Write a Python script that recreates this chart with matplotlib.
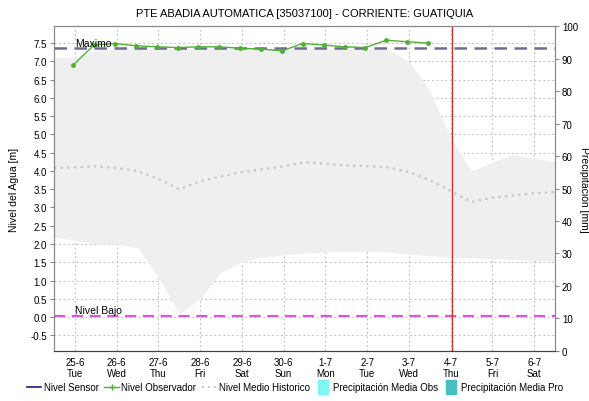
import matplotlib
matplotlib.use('Agg')
import matplotlib.dates as mdates
import matplotlib.pyplot as plt
import numpy as np
import pandas as pd

plt.rcParams['font.family'] = ['Liberation Sans', 'DejaVu Sans']

# Observed water level (m), one reading every 12 h
obs_times = pd.date_range('2024-06-24 23:00', periods=18, freq='12h')
obs_level = [6.90, 7.45, 7.49, 7.43, 7.40, 7.38, 7.40, 7.40, 7.36,
             7.34, 7.29, 7.49, 7.45, 7.40, 7.38, 7.58, 7.54, 7.50]

# Historic statistics (m), every 12 h
hist_times = pd.date_range('2024-06-24 12:00', periods=25, freq='12h')
hist_mean = [4.08, 4.10, 4.13, 4.08, 4.00, 3.78, 3.50, 3.72, 3.85, 3.97, 4.05, 4.13, 4.24,
             4.20, 4.15, 4.13, 4.10, 3.97, 3.75, 3.45, 3.15, 3.27, 3.33, 3.39, 3.42]
hist_max = [7.10, 7.12, 7.30, 7.35, 7.35, 7.35, 7.35, 7.35, 7.35, 7.35, 7.35, 7.35, 7.35,
            7.35, 7.35, 7.35, 7.33, 7.00, 6.20, 4.90, 4.00, 4.25, 4.45, 4.35, 4.25]
hist_min = [2.19, 2.10, 2.00, 2.00, 1.90, 1.09, 0.08, 0.50, 1.23, 1.50, 1.65, 1.70, 1.75,
            1.78, 1.80, 1.80, 1.78, 1.72, 1.68, 1.64, 1.62, 1.60, 1.58, 1.55, 1.53]

nivel_maximo = 7.36
nivel_bajo = 0.04
now = pd.Timestamp('2024-07-04 01:00')

tick_days = pd.date_range('2024-06-25', '2024-07-06', freq='D')
day_names = ['Mon', 'Tue', 'Wed', 'Thu', 'Fri', 'Sat', 'Sun']

title = 'PTE ABADIA AUTOMATICA [35037100] - CORRIENTE: GUATIQUIA'

fig = plt.figure(figsize=(5.89, 4.02), dpi=100)
ax = fig.add_axes([0.0917, 0.1244, 0.8506, 0.8084])
ax2 = ax.twinx()

ax.fill_between(hist_times, hist_min, hist_max, color='#efefef', linewidth=0, zorder=1)
ax.plot(hist_times, hist_mean, color='#c4c4c4', linestyle=(0, (1, 2)), linewidth=1.6, zorder=2)

ax.axhline(nivel_maximo, color='#6d6d8f', linestyle=(0, (5, 3)), linewidth=1.8, zorder=3)
ax.axhline(nivel_bajo, color='#d957d9', linestyle=(0, (5, 3)), linewidth=1.6, zorder=3)
ax.axvline(now, color='#cc3333', linewidth=1.0, zorder=4)

ax.plot(obs_times, obs_level, color='#52b033', linewidth=1.0, marker='o', markersize=2.5, zorder=5)

ax.text(pd.Timestamp('2024-06-25'), nivel_maximo + 0.02, 'Maximo', fontsize=7.5, ha='left', va='bottom', zorder=6)
ax.text(pd.Timestamp('2024-06-25'), nivel_bajo + 0.02, 'Nivel Bajo', fontsize=7.5, ha='left', va='bottom', zorder=6)

ax.set_xlim(pd.Timestamp('2024-06-24 12:00'), pd.Timestamp('2024-07-06 12:00'))
ax.set_ylim(-0.93, 7.97)
ax.set_yticks(np.arange(-0.5, 7.51, 0.5))
ax.yaxis.set_major_formatter(matplotlib.ticker.FormatStrFormatter('%.1f'))
ax.set_xticks(tick_days)
ax.set_xticklabels([f"{d.day}-{d.month}\n{day_names[d.weekday()]}" for d in tick_days])
ax.tick_params(axis='both', labelsize=7, length=3, color='#888888', pad=2)
ax.tick_params(axis='x', length=0, pad=4)
ax.grid(True, color='#bbbbbb', linestyle=(0, (1.5, 2.5)), linewidth=0.8)
ax.set_axisbelow(True)

ax2.set_ylim(0, 100)
ax2.set_yticks(np.arange(0, 101, 10))
ax2.tick_params(axis='y', labelsize=7, length=3, color='#888888', pad=2)
ax2.set_ylabel('Precipitación [mm]', fontsize=7.5, rotation=270, labelpad=8)
ax.set_ylabel('Nivel del Agua [m]', fontsize=7.5, labelpad=8)

for a in (ax, ax2):
    for side in ('left', 'right', 'top'):
        a.spines[side].set_color('#888888')
    a.spines['bottom'].set_linestyle((0, (1, 1)))
    a.spines['bottom'].set_color('#444444')

fig.suptitle(title, fontsize=8, x=0.517, y=0.978)

# narrow upright bar used as the legend swatch for the rain series
bar = [(-0.35, -0.5), (0.35, -0.5), (0.35, 0.5), (-0.35, 0.5), (-0.35, -0.5)]
handles = [
    plt.Line2D([], [], color='#1a1a80', linewidth=1.2),
    plt.Line2D([], [], color='#52b033', linewidth=1.0, marker='+', markersize=4),
    plt.Line2D([], [], color='#c4c4c4', linestyle=(0, (1, 2)), linewidth=1.4),
    plt.Line2D([], [], linestyle='none', marker=bar, markersize=10, color='#7ff5f5'),
    plt.Line2D([], [], linestyle='none', marker=bar, markersize=10, color='#45c0c0'),
]
labels = ['Nivel Sensor', 'Nivel Observador', 'Nivel Medio Historico',
          'Precipitación Media Obs', 'Precipitación Media Pro']
fig.legend(handles, labels, loc='center left', bbox_to_anchor=(0.045, 0.035), ncol=5,
           frameon=False, fontsize=7, handlelength=1.5, handletextpad=0.25, columnspacing=0.6,
           borderaxespad=0, borderpad=0)

fig.savefig('out.png', dpi=100)
